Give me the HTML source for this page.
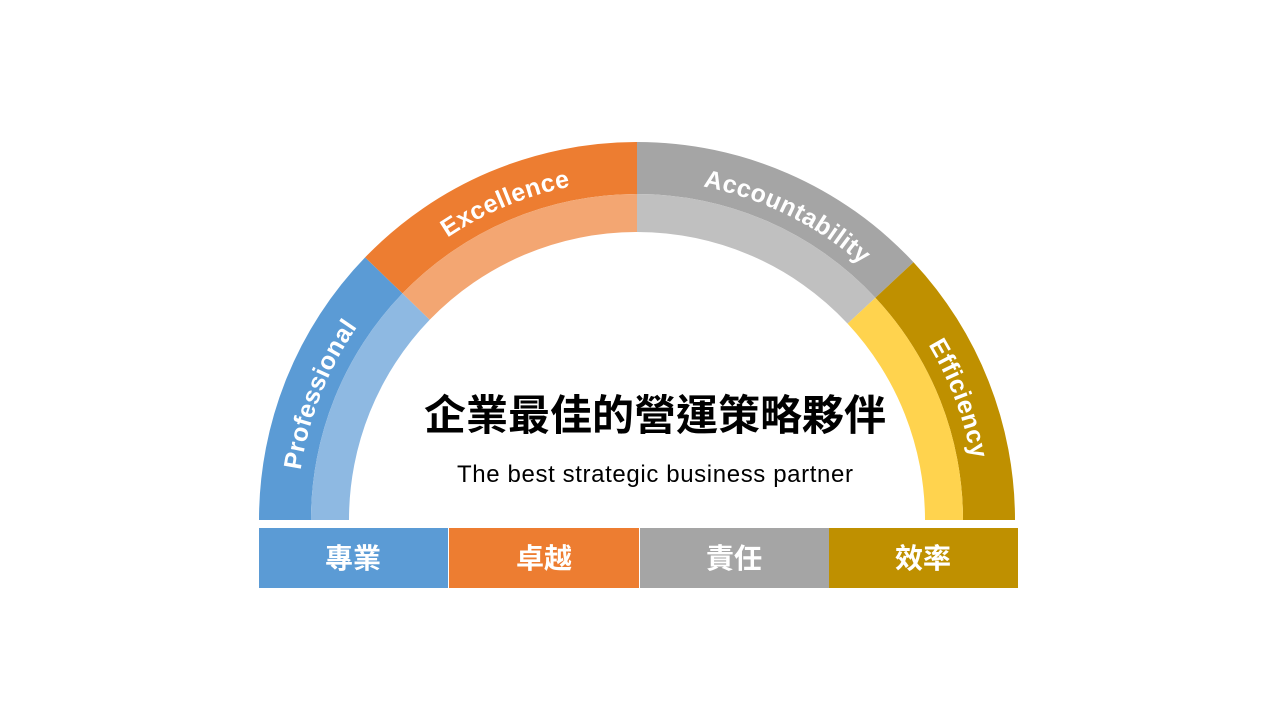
<!DOCTYPE html>
<html><head><meta charset="utf-8"><style>
body{margin:0;width:1280px;height:720px;background:#fff;overflow:hidden}
svg{display:block}
</style></head><body>
<svg width="1280" height="720" viewBox="0 0 1280 720" xmlns="http://www.w3.org/2000/svg">
<defs>
<path id="tp" d="M 297 520 A 340 340 0 0 1 977 520"/>
</defs>
<!-- Blue -->
<path d="M 259 520 A 378 378 0 0 1 365.1 257.4 L 402.5 293.4 A 326 326 0 0 0 311 520 Z" fill="#5B9BD5"/>
<path d="M 311 520 A 326 326 0 0 1 402.5 293.4 L 429.7 319.8 A 288 288 0 0 0 349 520 Z" fill="#8EB9E2"/>
<!-- Orange -->
<path d="M 365.1 257.4 A 378 378 0 0 1 637 142 L 637 194 A 326 326 0 0 0 402.5 293.4 Z" fill="#ED7D31"/>
<path d="M 402.5 293.4 A 326 326 0 0 1 637 194 L 637 232 A 288 288 0 0 0 429.7 319.8 Z" fill="#F3A672"/>
<!-- Gray -->
<path d="M 637 142 A 378 378 0 0 1 913.5 262.2 L 875.4 297.7 A 326 326 0 0 0 637 194 Z" fill="#A5A5A5"/>
<path d="M 637 194 A 326 326 0 0 1 875.4 297.7 L 847.6 323.6 A 288 288 0 0 0 637 232 Z" fill="#C0C0C0"/>
<!-- Gold -->
<path d="M 913.5 262.2 A 378 378 0 0 1 1015 520 L 963 520 A 326 326 0 0 0 875.4 297.7 Z" fill="#BF9000"/>
<path d="M 875.4 297.7 A 326 326 0 0 1 963 520 L 925 520 A 288 288 0 0 0 847.6 323.6 Z" fill="#FFD34E"/>
<g font-family="Liberation Sans, sans-serif" font-weight="bold" font-size="25" fill="#fff" letter-spacing="0.5">
<text text-anchor="middle"><textPath href="#tp" startOffset="128">Professional</textPath></text>
<text text-anchor="middle"><textPath href="#tp" startOffset="400">Excellence</textPath></text>
<text text-anchor="middle"><textPath href="#tp" startOffset="690">Accountability</textPath></text>
<text text-anchor="middle"><textPath href="#tp" startOffset="945">Efficiency</textPath></text>
</g>
<text x="655" y="430" text-anchor="middle" font-family="Liberation Sans, 'Noto Sans CJK TC', sans-serif" font-weight="bold" font-size="42" fill="#000">企業最佳的營運策略夥伴</text>
<text x="655" y="482" text-anchor="middle" font-family="Liberation Sans, sans-serif" font-size="24" fill="#000" textLength="396">The best strategic business partner</text>
<rect x="259" y="528" width="189" height="60" fill="#5B9BD5"/>
<rect x="449" y="528" width="190" height="60" fill="#ED7D31"/>
<rect x="640" y="528" width="189" height="60" fill="#A5A5A5"/>
<rect x="829" y="528" width="189" height="60" fill="#BF9000"/>
<g font-family="Liberation Sans, 'Noto Sans CJK TC', sans-serif" font-weight="bold" font-size="28" fill="#fff" text-anchor="middle">
<text x="353" y="568">專業</text>
<text x="544" y="568">卓越</text>
<text x="734" y="568">責任</text>
<text x="923" y="568">效率</text>
</g>
</svg>
</body></html>
